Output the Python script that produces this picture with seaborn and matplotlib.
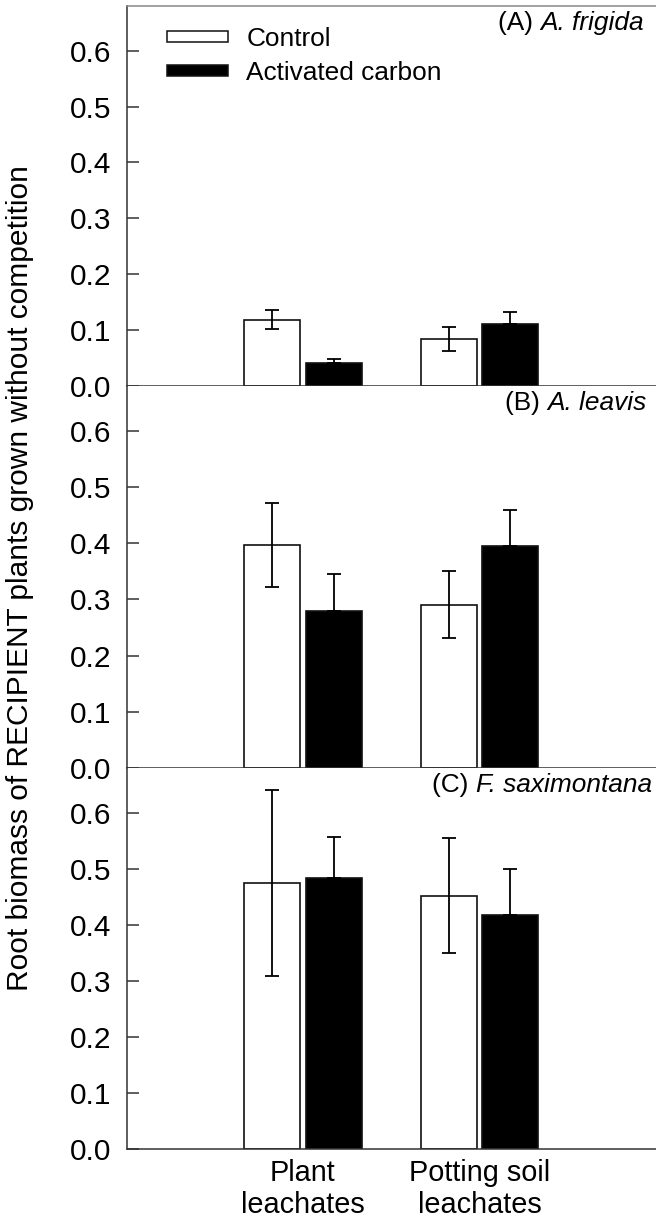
import matplotlib
matplotlib.use("Agg")
import matplotlib.pyplot as plt
import seaborn as sns
import pandas as pd
from matplotlib.patches import Patch

# ---- data ----
categories = ["Plant\nleachates", "Potting soil\nleachates"]
treatments = ["Control", "Activated carbon"]
panels = ["A", "B", "C"]
species = ["A. frigida", "A. leavis", "F. saximontana"]

control_mean = {"A": [0.119, 0.084], "B": [0.397, 0.291], "C": [0.475, 0.452]}
control_err = {"A": [0.017, 0.022], "B": [0.074, 0.060], "C": [0.166, 0.103]}
carbon_mean = {"A": [0.042, 0.111], "B": [0.279, 0.395], "C": [0.483, 0.418]}
carbon_err = {"A": [0.007, 0.021], "B": [0.066, 0.064], "C": [0.073, 0.082]}

yticks = [0.0, 0.1, 0.2, 0.3, 0.4, 0.5, 0.6]
ylabel = "Root biomass of RECIPIENT plants grown without competition"

sns.set_theme(style="white")
plt.rcParams["font.family"] = ["Liberation Sans", "DejaVu Sans"]
for k in ["text.color", "axes.labelcolor", "xtick.color", "ytick.color"]:
    plt.rcParams[k] = "black"

W, H = 656, 1220
fig = plt.figure(figsize=(W / 100, H / 100), dpi=100)

left = 126.5 / W
width = 1.0 - left
tops = [6, 386, 768]
bottoms = [386, 768, 1149]
label_x = [0.977, 0.982, 0.992]

palette = {"Control": "white", "Activated carbon": "black"}
edge = "#111111"
spine_c = "#333333"

for i, p in enumerate(panels):
    ax = fig.add_axes([left, 1 - bottoms[i] / H, width, (bottoms[i] - tops[i]) / H])
    df = pd.DataFrame({
        "category": categories * 2,
        "treatment": [treatments[0]] * 2 + [treatments[1]] * 2,
        "value": control_mean[p] + carbon_mean[p],
    })
    errs = {treatments[0]: control_err[p], treatments[1]: carbon_err[p]}
    sns.barplot(data=df, x="category", y="value", hue="treatment",
                order=categories, hue_order=treatments, palette=palette,
                width=0.7, gap=0.09, edgecolor=edge, linewidth=1.2,
                errorbar=None, legend=False, ax=ax)
    for cont, t in zip(ax.containers, treatments):
        xs = [b.get_x() + b.get_width() / 2 for b in cont]
        hs = [b.get_height() for b in cont]
        e = errs[t]
        if t == "Control":
            yerr = [e, e]
        else:
            yerr = [[0] * len(e), e]
        ax.errorbar(xs, hs, yerr=yerr, fmt="none", ecolor="black",
                    elinewidth=1.3, capsize=4.8, capthick=1.3, zorder=3)

    ax.set_xlim(-1, 2)
    ax.set_ylim(0, 0.68)
    ax.set_yticks(yticks)
    ax.set_yticklabels([f"{v:.1f}" for v in yticks])
    ax.set_xlabel("")
    ax.set_ylabel("")
    ax.tick_params(axis="y", direction="in", length=8.5, width=1.1,
                   color=spine_c, labelsize=21.5, pad=11, left=True)
    ax.tick_params(axis="x", length=0, labelsize=20.8, pad=7)
    if i < 2:
        ax.set_xticklabels([])
    for s in ["left", "bottom"]:
        ax.spines[s].set_color(spine_c)
        ax.spines[s].set_linewidth(1.1)
    ax.spines["right"].set_visible(False)
    if i == 0:
        ax.spines["top"].set_color("#888888")
        ax.spines["top"].set_linewidth(1.1)
    else:
        ax.spines["top"].set_visible(False)

    t_it = ax.text(label_x[i], 0.955, species[i], transform=ax.transAxes,
                   ha="right", va="center", fontsize=18.9, style="italic",
                   color="black")
    ax.annotate(f"({p}) ", xy=(0, 0.5), xycoords=t_it, ha="right",
                va="center", fontsize=18.9, color="black")

    if i == 0:
        handles = [Patch(facecolor=palette[t], edgecolor=edge, linewidth=1.1)
                   for t in treatments]
        ax.legend(handles, treatments, loc="upper left",
                  bbox_to_anchor=(0.076, 0.945), frameon=False, fontsize=18.9,
                  handlelength=2.35, handleheight=0.3, handletextpad=0.68,
                  labelspacing=0.38, borderpad=0, borderaxespad=0)

fig.text(20 / W, 1 - 578 / H, ylabel, rotation=90, ha="center", va="center",
         fontsize=21.5, color="black")

fig.savefig("out.png", dpi=100)
